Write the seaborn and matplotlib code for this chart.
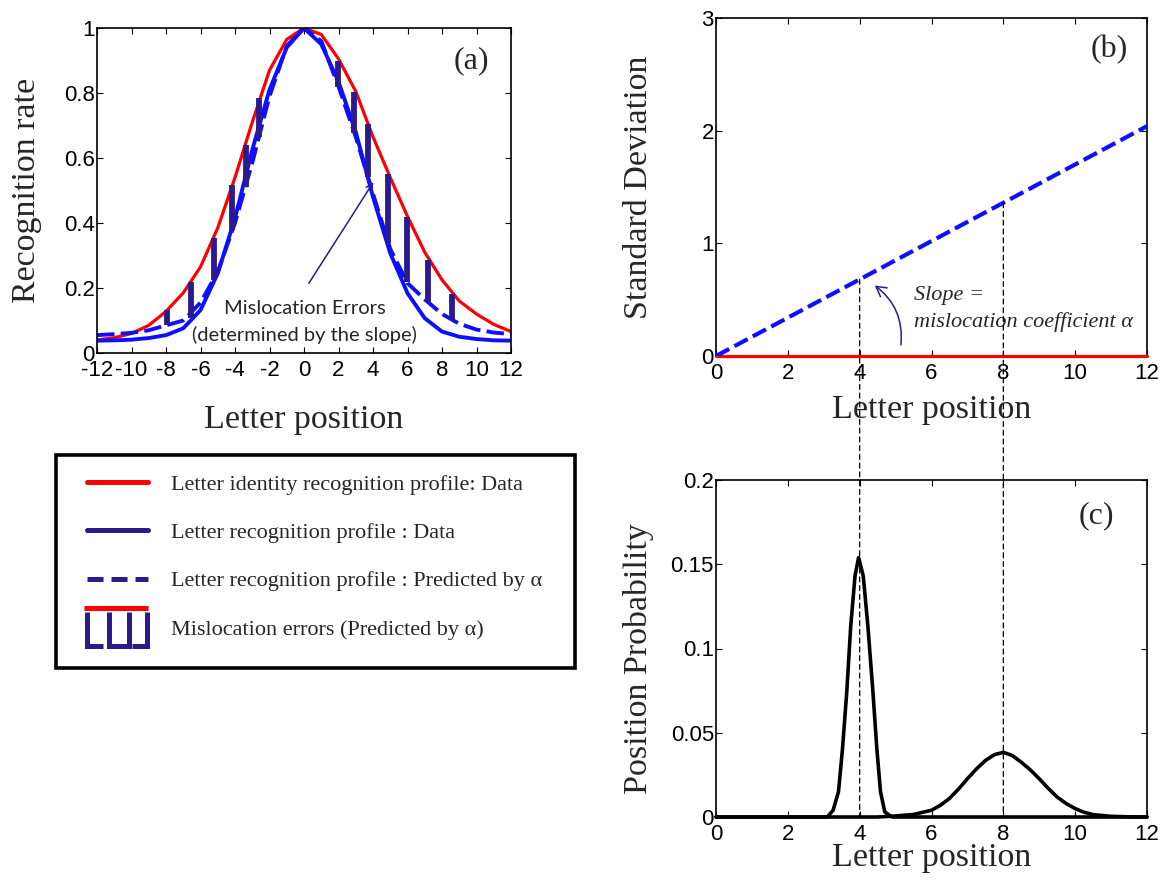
import numpy as np
import pandas as pd
import seaborn as sns
import matplotlib.pyplot as plt
from matplotlib.lines import Line2D
from matplotlib.patches import ConnectionPatch, FancyArrowPatch, Rectangle
from matplotlib.legend_handler import HandlerBase

# Panel (a): recognition profiles vs letter position
positions = list(range(-12, 13))
identity_data = [0.040, 0.047, 0.060, 0.085, 0.128, 0.185, 0.265, 0.385, 0.540, 0.710, 0.870, 0.965, 1.0,
                 0.980, 0.905, 0.805, 0.665, 0.540, 0.420, 0.310, 0.225, 0.160, 0.120, 0.088, 0.066]
letter_data = [0.038, 0.039, 0.041, 0.046, 0.055, 0.076, 0.132, 0.245, 0.415, 0.625, 0.810, 0.940, 1.0,
               0.950, 0.835, 0.680, 0.480, 0.307, 0.184, 0.107, 0.066, 0.050, 0.043, 0.039, 0.038]
letter_pred = [0.055, 0.058, 0.062, 0.070, 0.085, 0.100, 0.155, 0.250, 0.400, 0.585, 0.790, 0.945, 1.0,
               0.960, 0.820, 0.665, 0.490, 0.320, 0.215, 0.165, 0.120, 0.090, 0.072, 0.063, 0.058]

# mislocation error bars (top = identity, bottom = predicted)
err_pos = [-7.93, -6.53, -5.23, -4.19, -3.37, -2.60, 1.98, 2.91, 3.70, 4.89, 5.97, 7.21, 8.59]
err_top = [0.132, 0.219, 0.353, 0.517, 0.640, 0.784, 0.900, 0.804, 0.705, 0.551, 0.417, 0.286, 0.182]
err_bot = [0.086, 0.107, 0.225, 0.378, 0.512, 0.666, 0.820, 0.676, 0.543, 0.339, 0.219, 0.158, 0.102]

# Panel (b): standard deviation vs letter position
sd_pos = [0, 12]
sd_pred = [0, 2.04]
sd_identity = [0, 0]
guide_x = [4, 8]
guide_sd = [0.68, 1.36]

# Panel (c): position probability
c1_pos = [0, 1.8, 3.1, 3.26, 3.41, 3.52, 3.64, 3.75, 3.87, 3.97, 4.10, 4.23, 4.37, 4.48, 4.58, 4.70, 4.90, 12]
c1_prob = [0, 0, 0, 0.004, 0.015, 0.040, 0.074, 0.113, 0.143, 0.154, 0.143, 0.113, 0.074, 0.040, 0.015, 0.003, 0, 0]
c2_pos = [0, 4.5, 5, 5.5, 6, 6.25, 6.5, 6.75, 7, 7.25, 7.5, 7.75, 8, 8.25, 8.5, 8.75, 9, 9.25, 9.5,
          9.75, 10, 10.25, 10.5, 11, 11.5, 12]
c2_prob = [0, 0, 0.0006, 0.0015, 0.004, 0.007, 0.011, 0.0165, 0.0227, 0.0285, 0.0335, 0.037, 0.0384,
           0.0365, 0.0325, 0.028, 0.0227, 0.017, 0.0118, 0.008, 0.005, 0.0028, 0.0014, 0.0004, 0.0001, 0]

RED = '#ff0000'
BLUE = '#0f0fff'
NAVY = '#2b1a8c'
SERIF = 'Liberation Serif'

sns.set_theme(style='white')
plt.rcParams.update({
    'font.family': ['Liberation Sans', 'DejaVu Sans'],
    'axes.unicode_minus': False,
    'axes.edgecolor': 'black',
    'axes.linewidth': 1.2,
    'xtick.direction': 'in', 'ytick.direction': 'in',
    'xtick.top': True, 'ytick.right': True,
    'xtick.bottom': True, 'ytick.left': True,
    'xtick.major.size': 4, 'ytick.major.size': 4,
    'xtick.major.width': 0.8, 'ytick.major.width': 0.8,
    'xtick.major.pad': 5, 'ytick.major.pad': 1.5,
    'xtick.labelsize': 16, 'ytick.labelsize': 16,
    'xtick.color': 'black', 'ytick.color': 'black',
})

fig = plt.figure(figsize=(11.63, 8.81), dpi=100)
W, H = 1163, 881


def px_axes(l, t, r, b):
    return fig.add_axes([l / W, 1 - b / H, (r - l) / W, (b - t) / H])


ax_a = px_axes(97, 28, 511, 353)
ax_b = px_axes(716, 18, 1147, 356)
ax_c = px_axes(716, 480, 1147, 817)

# ---- (a)
df_a = pd.DataFrame({'pos': positions, 'identity': identity_data,
                     'letter': letter_data, 'pred': letter_pred})
sns.lineplot(data=df_a, x='pos', y='identity', ax=ax_a, color=RED, lw=2.3)
sns.lineplot(data=df_a, x='pos', y='letter', ax=ax_a, color=BLUE, lw=2.8)
sns.lineplot(data=df_a, x='pos', y='pred', ax=ax_a, color=BLUE, lw=2.8,
             linestyle=(0, (4.5, 1.6)))
ax_a.vlines(err_pos, err_bot, err_top, color=NAVY, lw=4.2, zorder=3)
ax_a.set_xlim(-12, 12)
ax_a.set_ylim(0, 1)
ax_a.set_xticks(range(-12, 13, 2))
ax_a.set_xticklabels([str(v) for v in range(-12, 13, 2)])
ax_a.set_yticks([0, 0.2, 0.4, 0.6, 0.8, 1])
ax_a.set_yticklabels(['0', '0.2', '0.4', '0.6', '0.8', '1'])
ax_a.set_xlabel('Letter position', fontsize=24.5, family=SERIF)
ax_a.set_ylabel('Recognition rate', fontsize=24.5, family=SERIF)
ax_a.xaxis.label.set_va('center')
ax_a.yaxis.label.set_va('center')
ax_a.xaxis.set_label_coords(0.5, -0.206)
ax_a.yaxis.set_label_coords(-0.17, 0.5)
ax_a.text(9.7, 0.9, '(a)', fontsize=23, family=SERIF, ha='center', va='center')
ax_a.annotate('', xy=(4.11, 0.533), xytext=(0.19, 0.207),
              arrowprops=dict(arrowstyle='->', color=NAVY, lw=1.1))
ax_a.text(0.05, 0.138, 'Mislocation Errors', fontsize=14.5, family=['Lato', 'DejaVu Sans'],
          ha='center', va='center')
ax_a.text(0.05, 0.056, '(determined by the slope)', fontsize=14.5,
          family=['Lato', 'DejaVu Sans'], ha='center', va='center')

# ---- (b)
df_b = pd.DataFrame({'pos': sd_pos, 'pred': sd_pred, 'identity': sd_identity})
sns.lineplot(data=df_b, x='pos', y='identity', ax=ax_b, color=RED, lw=2.3,
             clip_on=False, zorder=5)
sns.lineplot(data=df_b, x='pos', y='pred', ax=ax_b, color=BLUE, lw=3.0,
             linestyle=(0, (3.6, 1.4)), zorder=6)
ax_b.set_xlim(0, 12)
ax_b.set_ylim(0, 3)
ax_b.set_xticks(range(0, 13, 2))
ax_b.set_yticks([0, 1, 2, 3])
ax_b.set_xlabel('Letter position', fontsize=24.5, family=SERIF)
ax_b.set_ylabel('Standard Deviation', fontsize=24.5, family=SERIF)
ax_b.xaxis.label.set_va('center')
ax_b.yaxis.label.set_va('center')
ax_b.xaxis.set_label_coords(0.5, -0.16)
ax_b.yaxis.set_label_coords(-0.18, 0.5)
ax_b.text(10.95, 2.72, '(b)', fontsize=23, family=SERIF, ha='center', va='center')
ax_b.add_patch(FancyArrowPatch((5.14, 0.074), (4.36, 0.64), connectionstyle='arc3,rad=0.3',
                               arrowstyle='->,head_length=7,head_width=4', color=NAVY, lw=1.1))
ax_b.text(5.5, 0.54, 'Slope =', fontsize=16, family=SERIF, style='italic', va='center')
ax_b.text(5.5, 0.30, 'mislocation coefficient \u03b1', fontsize=16, family=SERIF,
          style='italic', va='center')

# ---- (c)
sns.lineplot(x=c1_pos, y=c1_prob, ax=ax_c, color='black', lw=2.6, clip_on=False, zorder=5)
sns.lineplot(x=c2_pos, y=c2_prob, ax=ax_c, color='black', lw=2.6, clip_on=False, zorder=5)
ax_c.set_xlim(0, 12)
ax_c.set_ylim(0, 0.2)
ax_c.set_xticks(range(0, 13, 2))
ax_c.set_yticks([0, 0.05, 0.1, 0.15, 0.2])
ax_c.set_yticklabels(['0', '0.05', '0.1', '0.15', '0.2'])
ax_c.set_xlabel('Letter position', fontsize=24.5, family=SERIF)
ax_c.set_ylabel('Position Probability', fontsize=24.5, family=SERIF)
ax_c.xaxis.label.set_va('center')
ax_c.yaxis.label.set_va('center')
ax_c.xaxis.set_label_coords(0.5, -0.122)
ax_c.yaxis.set_label_coords(-0.18, 0.47)
ax_c.text(10.58, 0.179, '(c)', fontsize=23, family=SERIF, ha='center', va='center')

# dashed guides from (b) down through (c)
for xv, sv in zip(guide_x, guide_sd):
    con = ConnectionPatch(xyA=(xv, sv), coordsA=ax_b.transData, xyB=(xv, 0),
                          coordsB=ax_c.transData, color='black', lw=0.9,
                          linestyle=(0, (4, 3)))
    fig.add_artist(con)


# ---- legend
class ErrorIconHandler(HandlerBase):
    def create_artists(self, legend, orig_handle, xdescent, ydescent, width, height,
                       fontsize, trans):
        x0, y0 = -xdescent, -ydescent
        cy = y0 + height / 2
        top, bot = cy + 11, cy - 14
        w = width
        kw = dict(color=NAVY, lw=3.6, transform=trans, solid_capstyle='butt',
                  solid_joinstyle='miter')
        red = Line2D([x0 - 2, x0 + w], [top + 2.5, top + 2.5], color=RED, lw=3.6,
                     transform=trans, solid_capstyle='butt')
        l_shape = Line2D([x0, x0, x0 + 0.26 * w], [top, bot, bot], **kw)
        u_shape = Line2D([x0 + 0.36 * w, x0 + 0.36 * w, x0 + 0.69 * w, x0 + 0.69 * w],
                         [top, bot, bot, top], **kw)
        j_shape = Line2D([x0 + 0.98 * w, x0 + 0.98 * w, x0 + 0.74 * w], [top, bot, bot], **kw)
        return [red, l_shape, u_shape, j_shape]


handles = [Line2D([], [], color=RED, lw=3.6),
           Line2D([], [], color=NAVY, lw=3.6),
           Line2D([], [], color=NAVY, lw=3.6, linestyle=(0, (3.2, 1.6))),
           'errors']
labels = ['Letter identity recognition profile: Data',
          'Letter recognition profile : Data',
          'Letter recognition profile : Predicted by \u03b1',
          'Mislocation errors (Predicted by \u03b1)']

fig.add_artist(Rectangle((56 / W, 1 - 668 / H), (575 - 56) / W, (668 - 455) / H,
                         transform=fig.transFigure, fill=False, ec='black', lw=2.6))
fig.legend(handles, labels, loc='center left', bbox_to_anchor=(87 / W, 1 - 557 / H),
           frameon=False, borderpad=0, borderaxespad=0, handlelength=2.75,
           handletextpad=1.04, labelspacing=1.25,
           prop={'family': SERIF, 'size': 16},
           handler_map={str: ErrorIconHandler()})

fig.savefig('out.png', dpi=100)
